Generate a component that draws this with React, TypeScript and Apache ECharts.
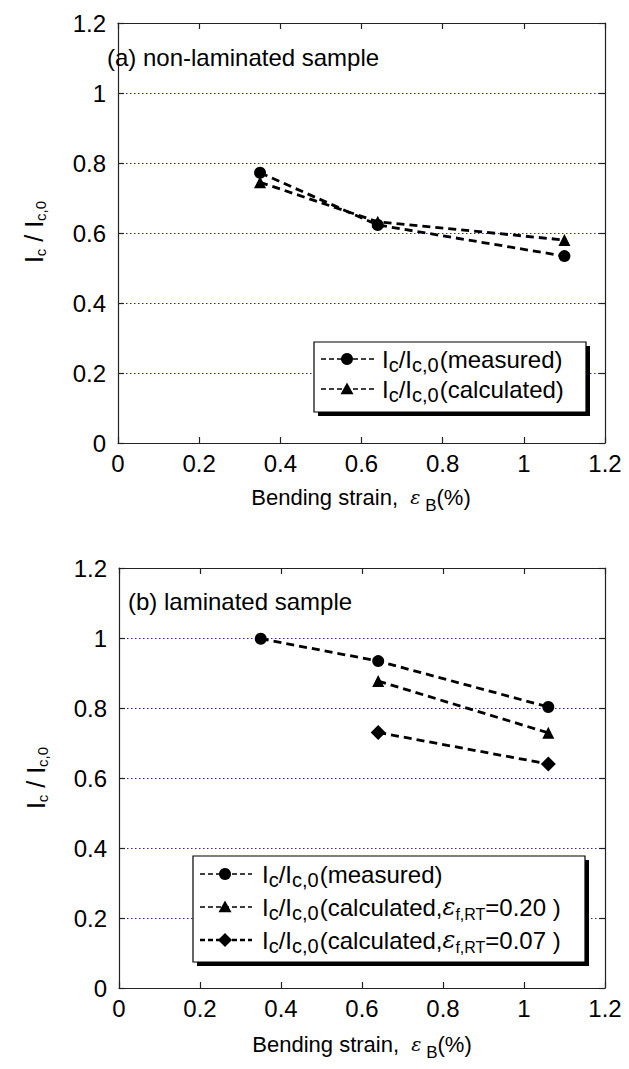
import React, { useEffect, useRef } from "react";
import * as echarts from "echarts";

// ---- data ----
const xTickMin = 0;
const xTickMax = 1.2;
const tickStep = 0.2;

const strainA = [0.35, 0.64, 1.1];
const measuredA = [0.772, 0.623, 0.534];
const calculatedA = [0.745, 0.632, 0.58];

const strainB = [0.35, 0.64, 1.06];
const measuredB = [0.998, 0.934, 0.803];
const strainBcalc = [0.64, 1.06];
const calc020B = [0.877, 0.729];
const calc007B = [0.73, 0.64];

const FONT = "'Liberation Sans', Arial, sans-serif";
const SERIF = "'DejaVu Serif', 'Liberation Serif', serif";

const zip = (xs: number[], ys: number[]) => xs.map((x, i) => [x, ys[i]]);

const richBase = {
  m: { fontSize: 24, fontFamily: FONT, color: "#000" },
  g: { fontSize: 4, fontFamily: FONT, color: "#000" },
  s: { fontSize: 20, fontFamily: FONT, color: "#000", padding: [12, 0, 0, 0] },
  e: { fontSize: 24, fontFamily: SERIF, fontStyle: "italic", color: "#000" },
  es: { fontSize: 16, fontFamily: FONT, color: "#000", padding: [15, 0, 0, 0] },
};

function axisCommon(gridIndex: number) {
  return {
    type: "value",
    min: xTickMin,
    max: xTickMax,
    interval: tickStep,
    gridIndex,
    axisLine: { show: true, onZero: false, lineStyle: { color: "#222", width: 1.2 } },
    axisTick: { show: true, inside: true, length: 6, lineStyle: { color: "#222", width: 1.2 } },
    splitLine: { show: false },
  };
}

const fmt = (v: number) => String(Math.round(v * 10) / 10);

function buildX(gridIndex: number) {
  const c = axisCommon(gridIndex);
  return [
    {
      ...c,
      position: "bottom",
      axisLabel: { show: true, fontSize: 24, fontFamily: FONT, color: "#000", margin: 8, formatter: fmt },
    },
    { ...c, position: "top", axisLabel: { show: false } },
  ];
}

function buildY(gridIndex: number) {
  const c = axisCommon(gridIndex);
  return [
    {
      ...c,
      position: "left",
      axisLabel: { show: true, fontSize: 24, fontFamily: FONT, color: "#000", margin: 12, padding: [0, 0, 10, 0], formatter: fmt },
      splitLine: { show: true, lineStyle: { type: [1.5, 2.5], color: "#2a2a9a", width: 1 } },
    },
    { ...c, position: "right", axisLabel: { show: false } },
  ];
}

function lineSeries(name: string, data: number[][], symbol: string, size: number, xi: number, yi: number) {
  return {
    name,
    type: "line",
    xAxisIndex: xi,
    yAxisIndex: yi,
    data,
    symbol,
    symbolSize: size,
    itemStyle: { color: "#000" },
    lineStyle: { color: "#000", width: 2.8, type: [8, 5] },
    z: 5,
  };
}

function legendSampleLine(x1: number, x2: number, y: number, width = 1.6) {
  return {
    type: "line",
    z: 101,
    shape: { x1, y1: y, x2, y2: y },
    style: { stroke: "#000", lineWidth: width, lineDash: [5, 3] },
  };
}
function circleMark(cx: number, cy: number, r = 6) {
  return { type: "circle", z: 102, shape: { cx, cy, r }, style: { fill: "#000" } };
}
function triMark(cx: number, cy: number, s = 6.5) {
  return {
    type: "polygon",
    z: 102,
    shape: { points: [[cx, cy - s], [cx + s, cy + s * 0.8], [cx - s, cy + s * 0.8]] },
    style: { fill: "#000" },
  };
}
function diaMark(cx: number, cy: number, s = 7) {
  return {
    type: "polygon",
    z: 102,
    shape: { points: [[cx, cy - s], [cx + s, cy], [cx, cy + s], [cx - s, cy]] },
    style: { fill: "#000" },
  };
}
function richText(x: number, y: number, text: string) {
  return {
    type: "text",
    z: 103,
    x,
    y,
    style: { text, rich: richBase, fontFamily: FONT, fontSize: 24, fill: "#000", verticalAlign: "middle", align: "left" },
  };
}
function legendBox(x: number, y: number, w: number, h: number) {
  return [
    { type: "rect", z: 99, shape: { x: x + 4, y: y + 4, width: w, height: h }, style: { fill: "#000" } },
    { type: "rect", z: 100, shape: { x, y, width: w, height: h }, style: { fill: "#fff", stroke: "#000", lineWidth: 1.2 } },
  ];
}

const lgMeasured = "{m|I}{s|c}{m|/I}{s|c,0}{g| }{m|(measured)}";
const lgCalc = "{m|I}{s|c}{m|/I}{s|c,0}{g| }{m|(calculated)}";
const lgCalc020 = "{m|I}{s|c}{m|/I}{s|c,0}{g| }{m|(calculated,}{e|ε}{es|f,RT}{m|=0.20 )}";
const lgCalc007 = "{m|I}{s|c}{m|/I}{s|c,0}{g| }{m|(calculated,}{e|ε}{es|f,RT}{m|=0.07 )}";

const yTitle = "{m|I}{s|c}{m| / I}{s|c,0}";
const xTitle = "{t|Bending strain,  }{g|ε}{b| B}{t|(%)}";
const xTitleRich = {
  t: { fontSize: 22, fontFamily: FONT, color: "#000" },
  g: { fontSize: 19, fontFamily: SERIF, fontStyle: "italic", color: "#000" },
  b: { fontSize: 17, fontFamily: FONT, color: "#000", padding: [16, 0, 0, 0] },
};
const yTitleRich = {
  m: { fontSize: 25, fontFamily: FONT, color: "#000" },
  s: { fontSize: 15, fontFamily: FONT, color: "#000", padding: [13, 0, 0, 0] },
};

export default function App() {
  const ref = useRef<HTMLDivElement>(null);
  useEffect(() => {
    document.body.style.margin = "0";
    const chart = echarts.init(ref.current!, null, { renderer: "svg" });
    const option: any = {
      animation: false,
      backgroundColor: "#fff",
      grid: [
        { left: 118, top: 23, width: 487, height: 420 },
        { left: 119, top: 568, width: 486, height: 420 },
      ],
      xAxis: [...buildX(0), ...buildX(1)],
      yAxis: [...buildY(0), ...buildY(1)],
      series: [
        lineSeries("measured (a)", zip(strainA, measuredA), "circle", 12, 0, 0),
        lineSeries("calculated (a)", zip(strainA, calculatedA), "triangle", 12, 0, 0),
        lineSeries("measured (b)", zip(strainB, measuredB), "circle", 12, 2, 2),
        lineSeries("calculated 0.20 (b)", zip(strainBcalc, calc020B), "triangle", 12, 2, 2),
        lineSeries("calculated 0.07 (b)", zip(strainBcalc, calc007B), "diamond", 15, 2, 2),
      ],
      graphic: [
        // panel labels
        { type: "text", z: 103, x: 107, y: 57, style: { text: "(a) non-laminated sample", fontSize: 24, fontFamily: FONT, fill: "#000", verticalAlign: "middle" } },
        { type: "text", z: 103, x: 128, y: 601, style: { text: "(b) laminated sample", fontSize: 24, fontFamily: FONT, fill: "#000", verticalAlign: "middle" } },
        // axis titles
        { type: "text", z: 103, x: 361, y: 497, style: { text: xTitle, rich: xTitleRich, align: "center", verticalAlign: "middle" } },
        { type: "text", z: 103, x: 362, y: 1044, style: { text: xTitle, rich: xTitleRich, align: "center", verticalAlign: "middle" } },
        { type: "text", z: 103, x: 34, y: 232, rotation: Math.PI / 2, style: { text: yTitle, rich: yTitleRich, align: "center", verticalAlign: "middle" } },
        { type: "text", z: 103, x: 36, y: 778, rotation: Math.PI / 2, style: { text: yTitle, rich: yTitleRich, align: "center", verticalAlign: "middle" } },
        // legend (a)
        ...legendBox(314, 342, 272, 70),
        legendSampleLine(321, 374, 359),
        circleMark(347, 359),
        richText(382, 359, lgMeasured),
        legendSampleLine(321, 374, 389),
        triMark(347, 389),
        richText(382, 389, lgCalc),
        // legend (b)
        ...legendBox(193, 856, 392, 106),
        legendSampleLine(200, 252, 874),
        circleMark(225, 874),
        richText(262, 874, lgMeasured),
        legendSampleLine(200, 252, 907),
        triMark(225, 907),
        richText(262, 907, lgCalc020),
        legendSampleLine(200, 252, 940, 2.4),
        diaMark(225, 940),
        richText(262, 940, lgCalc007),
      ],
    };
    chart.setOption(option);
    return () => chart.dispose();
  }, []);
  return <div ref={ref} style={{ position: "absolute", left: 0, top: 0, width: 629, height: 1069 }} />;
}
